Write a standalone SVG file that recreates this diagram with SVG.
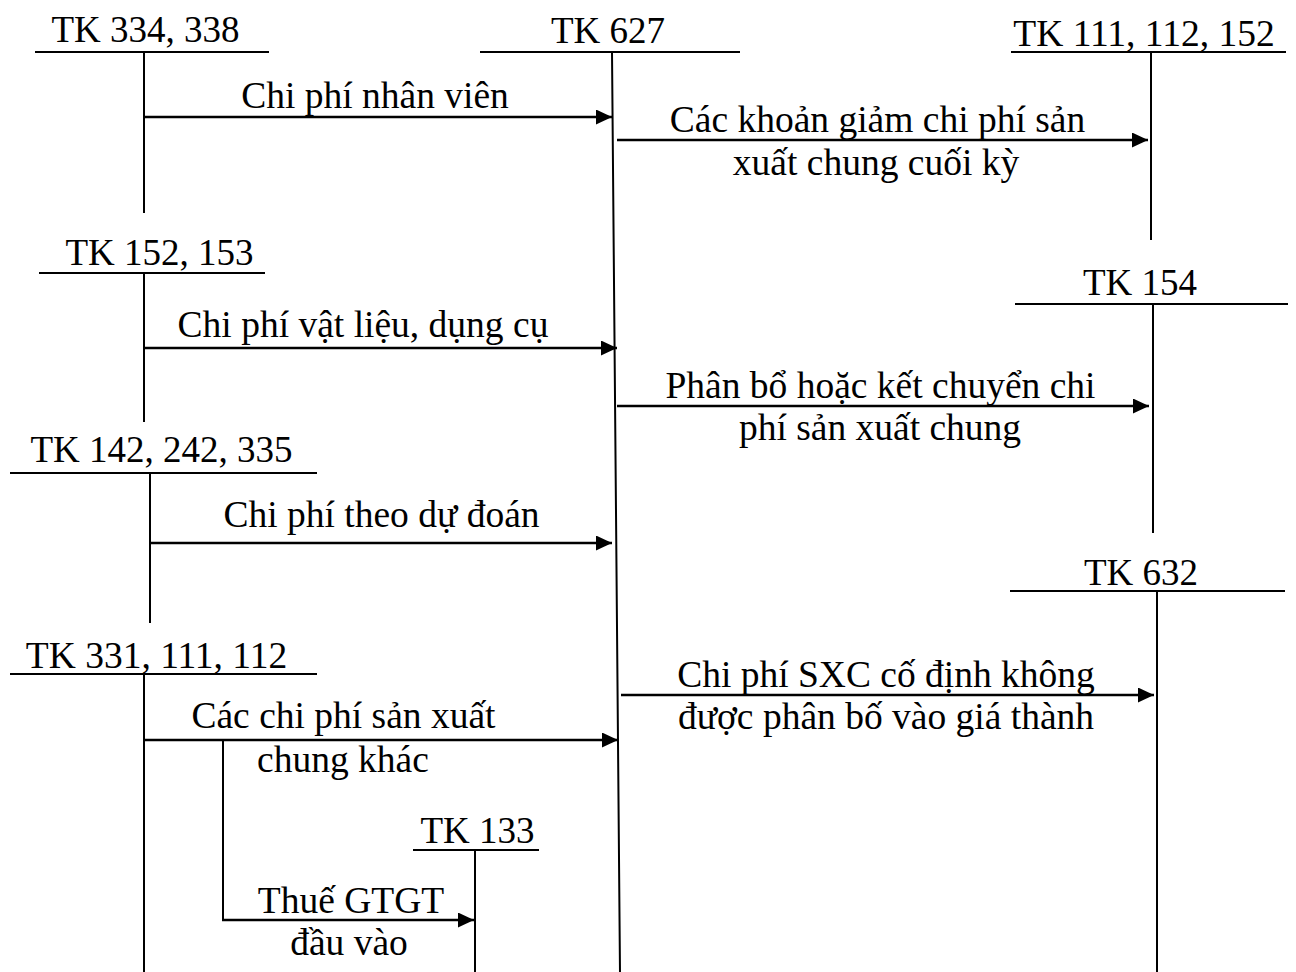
<svg xmlns="http://www.w3.org/2000/svg" width="1296" height="972" viewBox="0 0 1296 972">
<style>
text{font-family:"Liberation Serif","Times New Roman",serif;font-size:37.5px;fill:#000;text-anchor:middle}
.t{font-size:37px}
.acc{stroke:#000;stroke-width:2;fill:none}
.arr{stroke:#000;stroke-width:2.6;fill:none;marker-end:url(#ah)}
.br{stroke:#000;stroke-width:2;fill:none}
</style>
<defs>
<marker id="ah" markerUnits="userSpaceOnUse" markerWidth="17" markerHeight="16" refX="16" refY="7.5" orient="auto">
<path d="M0,0 L16,7.5 L0,15 z" fill="#000"/>
</marker>
</defs>
<rect width="1296" height="972" fill="#fff"/>
<g id="tk334">
<text class="t" x="145.5" y="42">TK 334, 338</text>
<path class="acc" d="M35,52 H269 M144,52 V213"/>
</g>
<g id="tk627">
<text class="t" x="608" y="43">TK 627</text>
<path class="acc" d="M480,52 H740 M612,52 L620,972"/>
</g>
<g id="tk111">
<text x="1144" y="46">TK 111, 112, 152</text>
<path class="acc" d="M1011,52 H1286 M1151,52 V240"/>
</g>
<g id="tk152">
<text class="t" x="159.5" y="265">TK 152, 153</text>
<path class="acc" d="M39,273 H265 M144,273 V422"/>
</g>
<g id="tk154">
<text class="t" x="1140" y="295">TK 154</text>
<path class="acc" d="M1015,304 H1288 M1153,304 V533"/>
</g>
<g id="tk142">
<text class="t" x="161.5" y="462">TK 142, 242, 335</text>
<path class="acc" d="M10,473 H317 M150,473 V623"/>
</g>
<g id="tk632">
<text class="t" x="1141" y="585">TK 632</text>
<path class="acc" d="M1010,591 H1285 M1157,591 V972"/>
</g>
<g id="tk331">
<text x="156.5" y="668">TK 331, 111, 112</text>
<path class="acc" d="M10,674 H317 M144,674 V972"/>
</g>
<g id="tk133">
<text class="t" x="477.5" y="843">TK 133</text>
<path class="acc" d="M413,850 H539 M475,850 V972"/>
</g>
<g id="connectors">
<path class="arr" d="M144,117 H612"/>
<text x="375" y="108">Chi phí nhân viên</text>
<path class="arr" d="M617,140 H1148"/>
<text x="877.5" y="132">Các khoản giảm chi phí sản</text>
<text x="876" y="175">xuất chung cuối kỳ</text>
<path class="arr" d="M144,348 H617"/>
<text x="363" y="337">Chi phí vật liệu, dụng cụ</text>
<path class="arr" d="M617,406 H1149"/>
<text x="880.5" y="398">Phân bổ hoặc kết chuyển chi</text>
<text x="880" y="440">phí sản xuất chung</text>
<path class="arr" d="M150,543 H612"/>
<text x="381.5" y="527">Chi phí theo dự đoán</text>
<path class="arr" d="M621,695 H1154"/>
<text x="886" y="687">Chi phí SXC cố định không</text>
<text x="886" y="729">được phân bố vào giá thành</text>
<path class="arr" d="M144,740 H618"/>
<text x="343.5" y="728">Các chi phí sản xuất</text>
<text x="343" y="772">chung khác</text>
<path class="br" d="M223,740 V920"/>
<path class="arr" d="M222,920 H474"/>
<text x="351" y="913">Thuế GTGT</text>
<text x="349" y="955">đầu vào</text>
</g>
</svg>
